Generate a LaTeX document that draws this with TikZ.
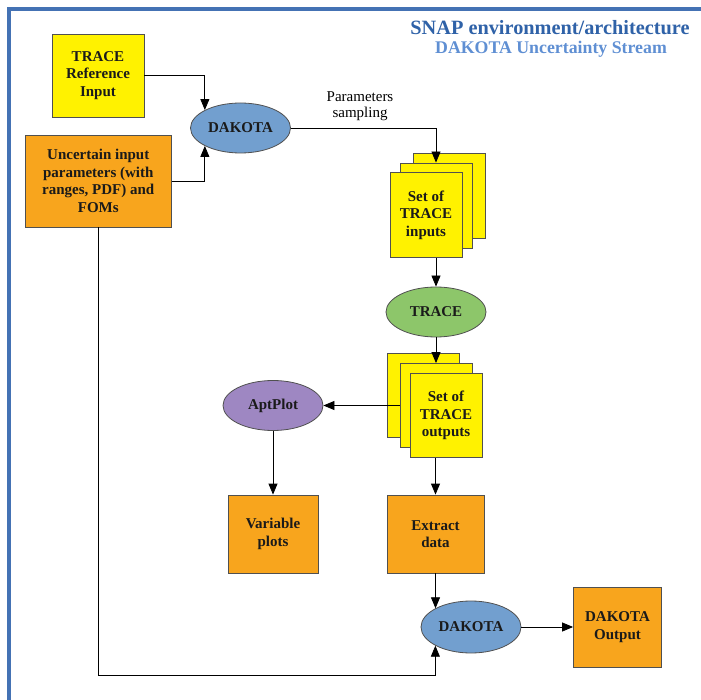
\documentclass[tikz,border=0pt]{standalone}
\usepackage{fontspec}
\setmainfont{Liberation Serif}
\usetikzlibrary{shapes.geometric,arrows.meta,calc}
\definecolor{frameblue}{HTML}{4472B4}
\definecolor{titleblue}{HTML}{2F62A8}
\definecolor{subblue}{HTML}{5F8FD3}
\definecolor{yellowc}{HTML}{FFF200}
\definecolor{orangec}{HTML}{F8A51D}
\definecolor{bluec}{HTML}{729FCF}
\definecolor{greenc}{HTML}{8DC66A}
\definecolor{purplec}{HTML}{9E87C2}
\definecolor{boxgray}{HTML}{505050}
\definecolor{txt}{HTML}{1A1A1A}
\begin{document}
\begin{tikzpicture}[x=1pt,y=-1pt,
  box/.style={draw=boxgray, line width=0.8pt, align=center, inner sep=0pt, text=txt,
    font=\fontsize{15}{17.5}\selectfont\bfseries},
  ell/.style={ellipse, draw=boxgray, line width=0.8pt, minimum width=100pt, minimum height=50pt,
    inner sep=0pt, text=txt, font=\fontsize{15}{17.5}\selectfont\bfseries},
  arr/.style={-{Triangle[length=11pt,width=9pt]}, line width=0.8pt, black},
  lbl/.style={align=center, inner sep=0pt, font=\fontsize{15}{16.5}\selectfont}
]
\useasboundingbox (0,0) rectangle (701,700);
\begin{scope}
  \clip (0,0) rectangle (701,700);
  \draw[frameblue, line width=4pt] (9,9) rectangle (760,760);
\end{scope}

\node[inner sep=0pt, text=titleblue, font=\fontsize{20.3}{22}\selectfont\bfseries] (t1) at (550,28) {SNAP environment/architecture};
\node[inner sep=0pt, text=subblue, font=\fontsize{17.8}{19}\selectfont\bfseries] (t2) at (551,49) {DAKOTA Uncertainty Stream};

\node[box, fill=yellowc, minimum width=92pt, minimum height=83pt] (ref) at (98,75.5) {TRACE\\Reference\\Input};
\node[box, fill=orangec, minimum width=146pt, minimum height=92pt] (unc) at (98.25,181) {Uncertain input\\parameters (with\\ranges, PDF) and\\FOMs};
\node[ell, fill=bluec] (dak1) at (240.5,128) {DAKOTA};
\node[lbl] (ps) at (360,106) {Parameters\\sampling};

\node[box, fill=yellowc, minimum width=72pt, minimum height=85pt] (inback) at (449,195.5) {};
\node[box, fill=yellowc, minimum width=72pt, minimum height=85pt] (inmid) at (436,205.5) {};
\node[box, fill=yellowc, minimum width=72pt, minimum height=85pt] (infront) at (426,215) {Set of\\TRACE\\inputs};

\node[ell, fill=greenc] (trace) at (436,312) {TRACE};

\node[box, fill=yellowc, minimum width=72pt, minimum height=84pt] (outback) at (423,395.5) {};
\node[box, fill=yellowc, minimum width=72pt, minimum height=84pt] (outmid) at (436,405.5) {};
\node[box, fill=yellowc, minimum width=72pt, minimum height=84pt] (outfront) at (446,415.5) {Set of\\TRACE\\outputs};

\node[ell, fill=purplec] (apt) at (273,405.5) {AptPlot};
\node[box, fill=orangec, minimum width=90pt, minimum height=78pt] (var) at (273,534) {Variable\\plots};
\node[box, fill=orangec, minimum width=97pt, minimum height=78pt] (extract) at (435.5,534) {Extract\\data};
\node[ell, fill=bluec, minimum height=52pt] (dak2) at (471,627) {DAKOTA};
\node[box, fill=orangec, minimum width=88pt, minimum height=80pt] (out) at (617.5,627) {DAKOTA\\Output};

\draw[arr] (ref.east) -| (dak1.north west);
\draw[arr] (unc.east) -| (dak1.south west);
\draw[arr] (dak1.east) -| (inmid.north);
\draw[arr] (infront.south -| trace.north) -- (trace.north);
\draw[arr] (trace.south) -- (outmid.north);
\draw[arr] (outmid.west) -- (apt.east);
\draw[arr] (apt.south) -- (var.north);
\draw[arr] (outfront.south -| extract.north) -- (extract.north);
\draw[arr] (extract.south) -- (extract.south |- dak2.north west);
\draw[arr] (unc.south) -- ++(0,448) -| (dak2.south west);
\draw[arr] (dak2.east) -- (out.west);
\end{tikzpicture}
\end{document}
